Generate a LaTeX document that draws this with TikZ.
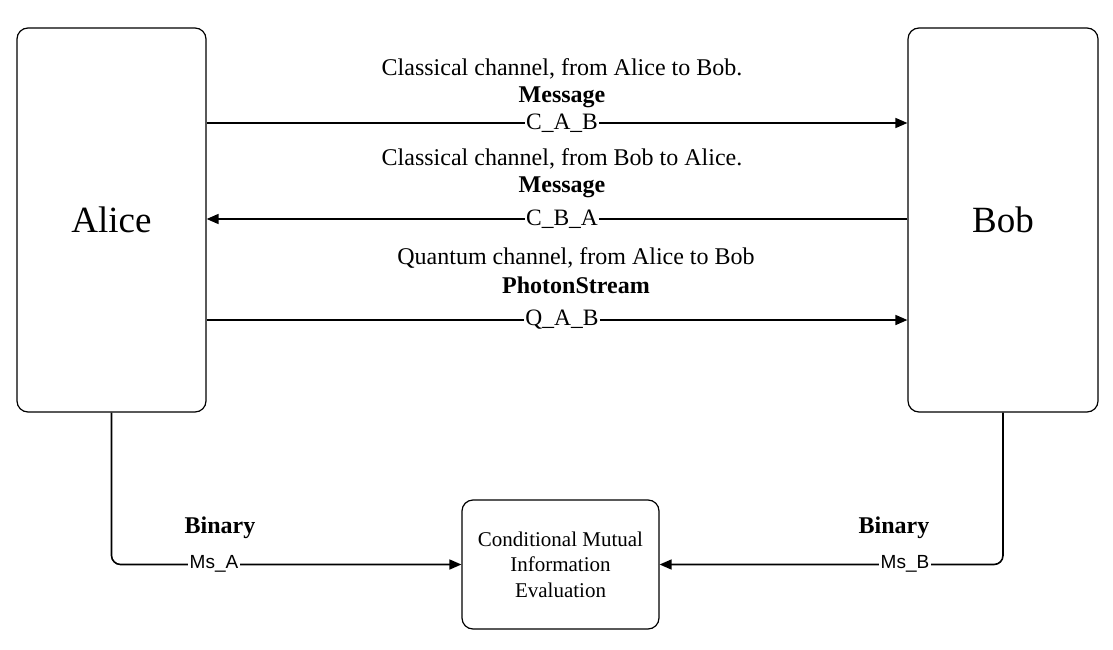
\documentclass[tikz,border=0pt]{standalone}
\usepackage{fontspec}
\setmainfont{Liberation Serif}
\newfontfamily\labsans{Liberation Sans}
\usetikzlibrary{arrows.meta}
\begin{document}
\begin{tikzpicture}[x=1pt,y=-1pt,
  box/.style={draw=black, line width=1.2pt, rounded corners=11pt, fill=white},
  arr/.style={line width=1.6pt, -{Triangle[length=12pt,width=10pt]}},
  ttl/.style={anchor=base, font=\fontsize{24}{28}\selectfont, inner sep=0pt},
  bttl/.style={anchor=base, font=\fontsize{24}{28}\selectfont\bfseries, inner sep=0pt},
  lab/.style={fill=white, inner sep=1pt, font=\fontsize{23.5}{24}\selectfont},
  slab/.style={fill=white, inner sep=1.5pt, font=\labsans\fontsize{19}{20}\selectfont}]
\useasboundingbox (0,0) rectangle (1113,650);
\node[box, minimum width=189pt, minimum height=384pt, font=\fontsize{37}{40}\selectfont] (alice) at (111.5,220) {Alice};
\node[box, minimum width=190pt, minimum height=384pt, font=\fontsize{37}{40}\selectfont] (bob) at (1003,220) {Bob};
\node[box, minimum width=197pt, minimum height=129pt, align=center, font=\fontsize{21}{25.5}\selectfont] (eval) at (560.5,564.5) {Conditional Mutual\\Information\\Evaluation};

\coordinate (a1) at (alice.east |- 0,123);
\coordinate (b1) at (bob.west |- 0,123);
\coordinate (a2) at (alice.east |- 0,219);
\coordinate (b2) at (bob.west |- 0,219);
\coordinate (a3) at (alice.east |- 0,320);
\coordinate (b3) at (bob.west |- 0,320);

\draw[arr] (a1) -- (b1);
\draw[arr] (b2) -- (a2);
\draw[arr] (a3) -- (b3);
\node[lab] (l1) at (562,123) {C\_A\_B};
\node[lab] (l2) at (562,219) {C\_B\_A};
\node[lab] (l3) at (562,320) {Q\_A\_B};

\node[ttl] (t1) at (562,76) {Classical channel, from Alice to Bob.};
\node[bttl] (m1) at (562,103) {Message};
\node[ttl] (t2) at (562,165) {Classical channel, from Bob to Alice.};
\node[bttl] (m2) at (562,192) {Message};
\node[ttl] (t3) at (576,264) {Quantum channel, from Alice to Bob};
\node[bttl] (m3) at (576,293) {PhotonStream};

\draw[arr, rounded corners=9pt] (alice.south) |- (eval.west);
\draw[arr, rounded corners=9pt] (bob.south) |- (eval.east);
\node[slab] (ms1) at (214,564) {Ms\_A};
\node[slab] (ms2) at (905,564) {Ms\_B};
\node[bttl] (bin1) at (220,533) {Binary};
\node[bttl] (bin2) at (894,533) {Binary};
\end{tikzpicture}
\end{document}
